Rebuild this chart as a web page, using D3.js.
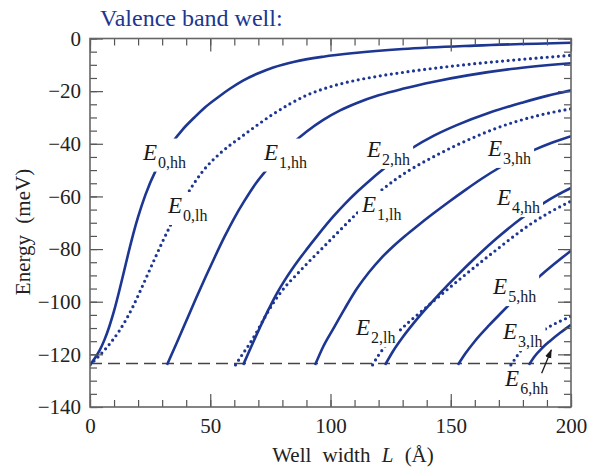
<!DOCTYPE html>
<html><head><meta charset="utf-8">
<script src="https://cdn.jsdelivr.net/npm/d3@7"></script>
<style>
body{margin:0;background:#fff}
svg{display:block}
text{font-family:"Liberation Serif","Times New Roman","DejaVu Serif",serif}
</style></head><body>
<svg id="c" width="592" height="471"></svg>
<script>
// ---------- data ----------
const titleText = "Valence band well:";
const xMajorTicks = [0, 50, 100, 150, 200];
const yMajorTicks = [0, -20, -40, -60, -80, -100, -120, -140];
const barrierEnergy = -123.5;

const E0hh = [[0,-124],[2,-121.5],[4,-118.5],[6,-114.5],[8,-109.5],[10,-103.5],[12,-96.5],[14,-89],[16,-81.4],[18,-74.2],[20,-67.8],[23,-59.5],[27.5,-49.8],[31,-44],[34,-39.8],[38.5,-34.6],[43.4,-30],[48,-26],[53.4,-22.2],[58,-19.2],[63.6,-16],[70,-13.2],[76.2,-11],[85,-8.8],[97,-6.9],[110,-5.5],[130,-4],[160,-2.7],[200,-1.6]];
const E0lh = [[0,-124],[3,-121.3],[6,-118.4],[9,-115.1],[12,-111.3],[15,-106.8],[18,-101.6],[21,-95.7],[24,-89.6],[27,-83.5],[30,-77.5],[34,-70],[38,-63],[42,-56.8],[47,-50.3],[54,-43.7],[63,-37.3],[70,-32.6],[76,-28.8],[83,-24.9],[90,-21.6],[100,-18.3],[111,-15.8],[120,-14.3],[130,-12.9],[145,-11.1],[163,-9.3],[180,-7.9],[200,-6.4]];
const E1hh = [[32,-124],[36,-115.8],[39.5,-108.4],[44,-98.9],[48,-90.7],[52,-82.8],[56,-75.2],[60,-68.2],[64,-62],[69,-55],[75,-48.3],[80,-43.5],[84.5,-39.6],[90,-35.4],[97,-30.9],[104,-27.3],[111,-24.5],[120,-21.6],[130,-19.1],[143,-16.4],[157,-14],[175,-11.6],[200,-9.4]];
const E1lh = [[60.5,-124],[63,-120.5],[66,-116.5],[69,-112],[72,-107],[76,-100.8],[81,-94.5],[86,-89.6],[91,-84.8],[97,-79.3],[104,-72.8],[111,-66.4],[116,-62],[121,-57.8],[127,-53.6],[132,-50.5],[138,-47.3],[145,-43.9],[152,-40.7],[160,-37.4],[168,-34.4],[177,-31.6],[188,-28.9],[200,-26.7]];
const E2hh = [[63.7,-124],[66,-119.2],[68,-115.1],[70.7,-109.7],[74,-103.4],[77.6,-97],[81,-91.8],[84.5,-87],[90,-80.2],[95,-74.4],[101,-67.8],[106,-62.8],[111,-58.3],[116,-54.2],[122,-49.6],[128,-45.4],[134,-41.6],[143,-36.9],[152.5,-32.9],[166,-28.2],[180,-24.3],[190,-21.8],[200,-19.7]];
const E2lh = [[117.5,-124],[120,-120.3],[122.5,-117.2],[127,-112.6],[132,-108.2],[137,-104.3],[141.4,-100.9],[148,-95.8],[155.3,-90.3],[163,-84.6],[170.5,-79.2],[177,-74.6],[184,-70],[191,-66.1],[200,-61.8]];
const E3hh = [[93.6,-124],[97,-117],[101,-110.5],[106,-102.5],[111,-95],[116,-88.8],[121,-83.5],[126,-79],[131,-75],[136,-71.3],[142.3,-66.8],[149,-62.2],[156,-57.6],[163,-53.2],[170,-49.2],[177,-45.7],[184,-42.6],[192,-39.6],[200,-37.1]];
const E3lh = [[175,-124],[177.5,-120.7],[180,-117.6],[185,-113.2],[190,-110],[195,-107.6],[200,-105.6]];
const E4hh = [[122.7,-124],[126,-118.8],[130,-113.5],[134,-108.8],[138.6,-103.8],[145,-97.3],[152.5,-90.2],[160,-83.5],[169,-76],[179,-68.6],[184,-65.3],[188.3,-62.7],[194,-59.6],[200,-56.8]];
const E5hh = [[153,-124],[156,-119.8],[160,-115],[166,-108.9],[171,-104.2],[176,-99.6],[181,-95.2],[186.4,-90.8],[193,-85.7],[200,-80.6]];
const E6hh = [[182.5,-124],[185,-120.6],[188,-117.6],[191.3,-114.9],[195.5,-111.8],[200,-108.8]];

const curveNames = ["E0hh","E0lh","E1hh","E1lh","E2hh","E2lh","E3hh","E3lh","E4hh","E5hh","E6hh"];
const curveData  = [E0hh, E0lh, E1hh, E1lh, E2hh, E2lh, E3hh, E3lh, E4hh, E5hh, E6hh];
const curveKinds = ["hh","lh","hh","lh","hh","lh","hh","lh","hh","hh","hh"];

// label: subscript, anchor (L,E) of baseline-left of "E", curve it interrupts
const labelSubs   = ["0,hh","0,lh","1,hh","2,hh","3,hh","1,lh","4,hh","5,hh","2,lh","3,lh","6,hh"];
const labelL      = [22, 32.4, 72.3, 115.2, 165.5, 113.1, 169.2, 167.6, 110.6, 171.7, 172.6];
const labelE      = [-46, -66.3, -46, -45, -44.6, -65.9, -63.3, -97.1, -112.8, -114.2, -132];
const labelCurves = ["E0hh","E0lh","E1hh","E2hh","E3hh","E1lh","E4hh","E5hh","E2lh","E3lh",null];
const arrowFrom = [187.8, -127.2];
const arrowTo   = [191.8, -118.3];

// ---------- drawing ----------
const svg = d3.select("#c");
const W = 592, H = 471;
const x = d3.scaleLinear().domain([0, 200]).range([90, 571]);
const y = d3.scaleLinear().domain([0, -140]).range([38.5, 407]);
const blue = "#1c3692";
const tickCol = "#555";
const serif = '"Liberation Serif","Times New Roman","DejaVu Serif",serif';

const defs = svg.append("defs");
defs.append("clipPath").attr("id","plotclip")
  .append("rect").attr("x",x(0)).attr("y",y(0)).attr("width",x(200)-x(0)).attr("height",y(-140)-y(0));

// dashed barrier line
svg.append("line")
  .attr("x1",x(0)).attr("x2",x(200)).attr("y1",y(barrierEnergy)).attr("y2",y(barrierEnergy))
  .attr("stroke","#444").attr("stroke-width",1.4).attr("stroke-dasharray","12,6");

// labels first to measure for masks
const labG = svg.append("g");
const maskRects = {};
labelSubs.forEach((s,i)=>{
  const t = labG.append("text")
    .attr("x", x(labelL[i])).attr("y", y(labelE[i]))
    .attr("fill","#1a1a1a").attr("font-size",23).attr("font-family",serif);
  t.append("tspan").attr("font-style","italic").text("E");
  t.append("tspan").attr("font-size",16).attr("dy",8).attr("dx",1).text(s);
  const bb = t.node().getBBox();
  if (labelCurves[i]) maskRects[labelCurves[i]] = bb;
});

// curves
const line = d3.line().x(d=>x(d[0])).y(d=>y(d[1])).curve(d3.curveMonotoneX);
const cg = svg.append("g").attr("clip-path","url(#plotclip)");
curveNames.forEach((name,i)=>{
  let maskUrl = null;
  if (maskRects[name]) {
    const bb = maskRects[name];
    const m = defs.append("mask").attr("id","m_"+name).attr("maskUnits","userSpaceOnUse")
      .attr("x",0).attr("y",0).attr("width",W).attr("height",H);
    m.append("rect").attr("x",0).attr("y",0).attr("width",W).attr("height",H).attr("fill","#fff");
    m.append("rect").attr("x",bb.x-3).attr("y",bb.y-1).attr("width",bb.width+6).attr("height",bb.height+2).attr("fill","#000");
    maskUrl = "url(#m_"+name+")";
  }
  const p = cg.append("path").attr("d", line(curveData[i])).attr("fill","none").attr("stroke",blue);
  if (curveKinds[i]==="hh") p.attr("stroke-width",2.6);
  else p.attr("stroke-width",3.2).attr("stroke-dasharray","0,5.6").attr("stroke-linecap","round");
  if (maskUrl) p.attr("mask",maskUrl);
});

// arrow
defs.append("marker").attr("id","ah").attr("viewBox","0 0 10 10").attr("refX",9).attr("refY",5)
  .attr("markerWidth",7).attr("markerHeight",7).attr("orient","auto")
  .append("path").attr("d","M0,1.5L10,5L0,8.5Z").attr("fill","#1a1a1a");
svg.append("line").attr("x1",x(arrowFrom[0])).attr("y1",y(arrowFrom[1]))
  .attr("x2",x(arrowTo[0])).attr("y2",y(arrowTo[1]))
  .attr("stroke","#1a1a1a").attr("stroke-width",1.3).attr("marker-end","url(#ah)");

// axes (inward ticks)
const minorX = d3.range(0, 201, 10), minorY = d3.range(0, -141, -5);
function styleAxis(g){
  g.attr("font-family", serif);
  g.select(".domain").remove();
  g.selectAll(".tick line").attr("stroke",tickCol).attr("stroke-width",1.2);
  g.selectAll(".tick text").attr("fill","#222").attr("font-size",21).attr("font-family",serif);
}
const fmt = d => d < 0 ? "\u2212" + Math.abs(d) : String(d);
svg.append("g").attr("transform",`translate(0,${y(-140)})`)
  .call(d3.axisBottom(x).tickValues(minorX).tickSize(-7).tickFormat("")).call(styleAxis);
svg.append("g").attr("transform",`translate(0,${y(-140)})`)
  .call(d3.axisBottom(x).tickValues(xMajorTicks).tickSize(-13).tickPadding(11).tickFormat(fmt)).call(styleAxis);
svg.append("g").attr("transform",`translate(0,${y(0)})`)
  .call(d3.axisTop(x).tickValues(minorX).tickSize(-7).tickFormat("")).call(styleAxis);
svg.append("g").attr("transform",`translate(0,${y(0)})`)
  .call(d3.axisTop(x).tickValues(xMajorTicks).tickSize(-13).tickFormat("")).call(styleAxis);
svg.append("g").attr("transform",`translate(${x(0)},0)`)
  .call(d3.axisLeft(y).tickValues(minorY).tickSize(-7).tickFormat("")).call(styleAxis);
svg.append("g").attr("transform",`translate(${x(0)},0)`)
  .call(d3.axisLeft(y).tickValues(yMajorTicks).tickSize(-13).tickPadding(9).tickFormat(fmt)).call(styleAxis);
svg.append("g").attr("transform",`translate(${x(200)},0)`)
  .call(d3.axisRight(y).tickValues(minorY).tickSize(-7).tickFormat("")).call(styleAxis);
svg.append("g").attr("transform",`translate(${x(200)},0)`)
  .call(d3.axisRight(y).tickValues(yMajorTicks).tickSize(-13).tickFormat("")).call(styleAxis);

// frame
svg.append("rect").attr("x",x(0)).attr("y",y(0)).attr("width",x(200)-x(0)).attr("height",y(-140)-y(0))
  .attr("fill","none").attr("stroke","#666").attr("stroke-width",1.6);

// titles
svg.append("text").attr("x",100).attr("y",26).attr("font-size",24).attr("font-family",serif)
  .attr("fill",blue).text(titleText);
const xt = svg.append("text").attr("x",353).attr("y",462).attr("text-anchor","middle")
  .attr("font-size",21).attr("font-family",serif).attr("fill","#222").attr("word-spacing","6px");
xt.append("tspan").text("Well width ");
xt.append("tspan").attr("font-style","italic").text("L");
xt.append("tspan").text(" (Å)");
svg.append("text").attr("transform","translate(30,232) rotate(-90)").attr("text-anchor","middle")
  .attr("font-size",21).attr("font-family",serif).attr("fill","#222").attr("word-spacing","6px").text("Energy (meV)");
</script>
</body></html>
